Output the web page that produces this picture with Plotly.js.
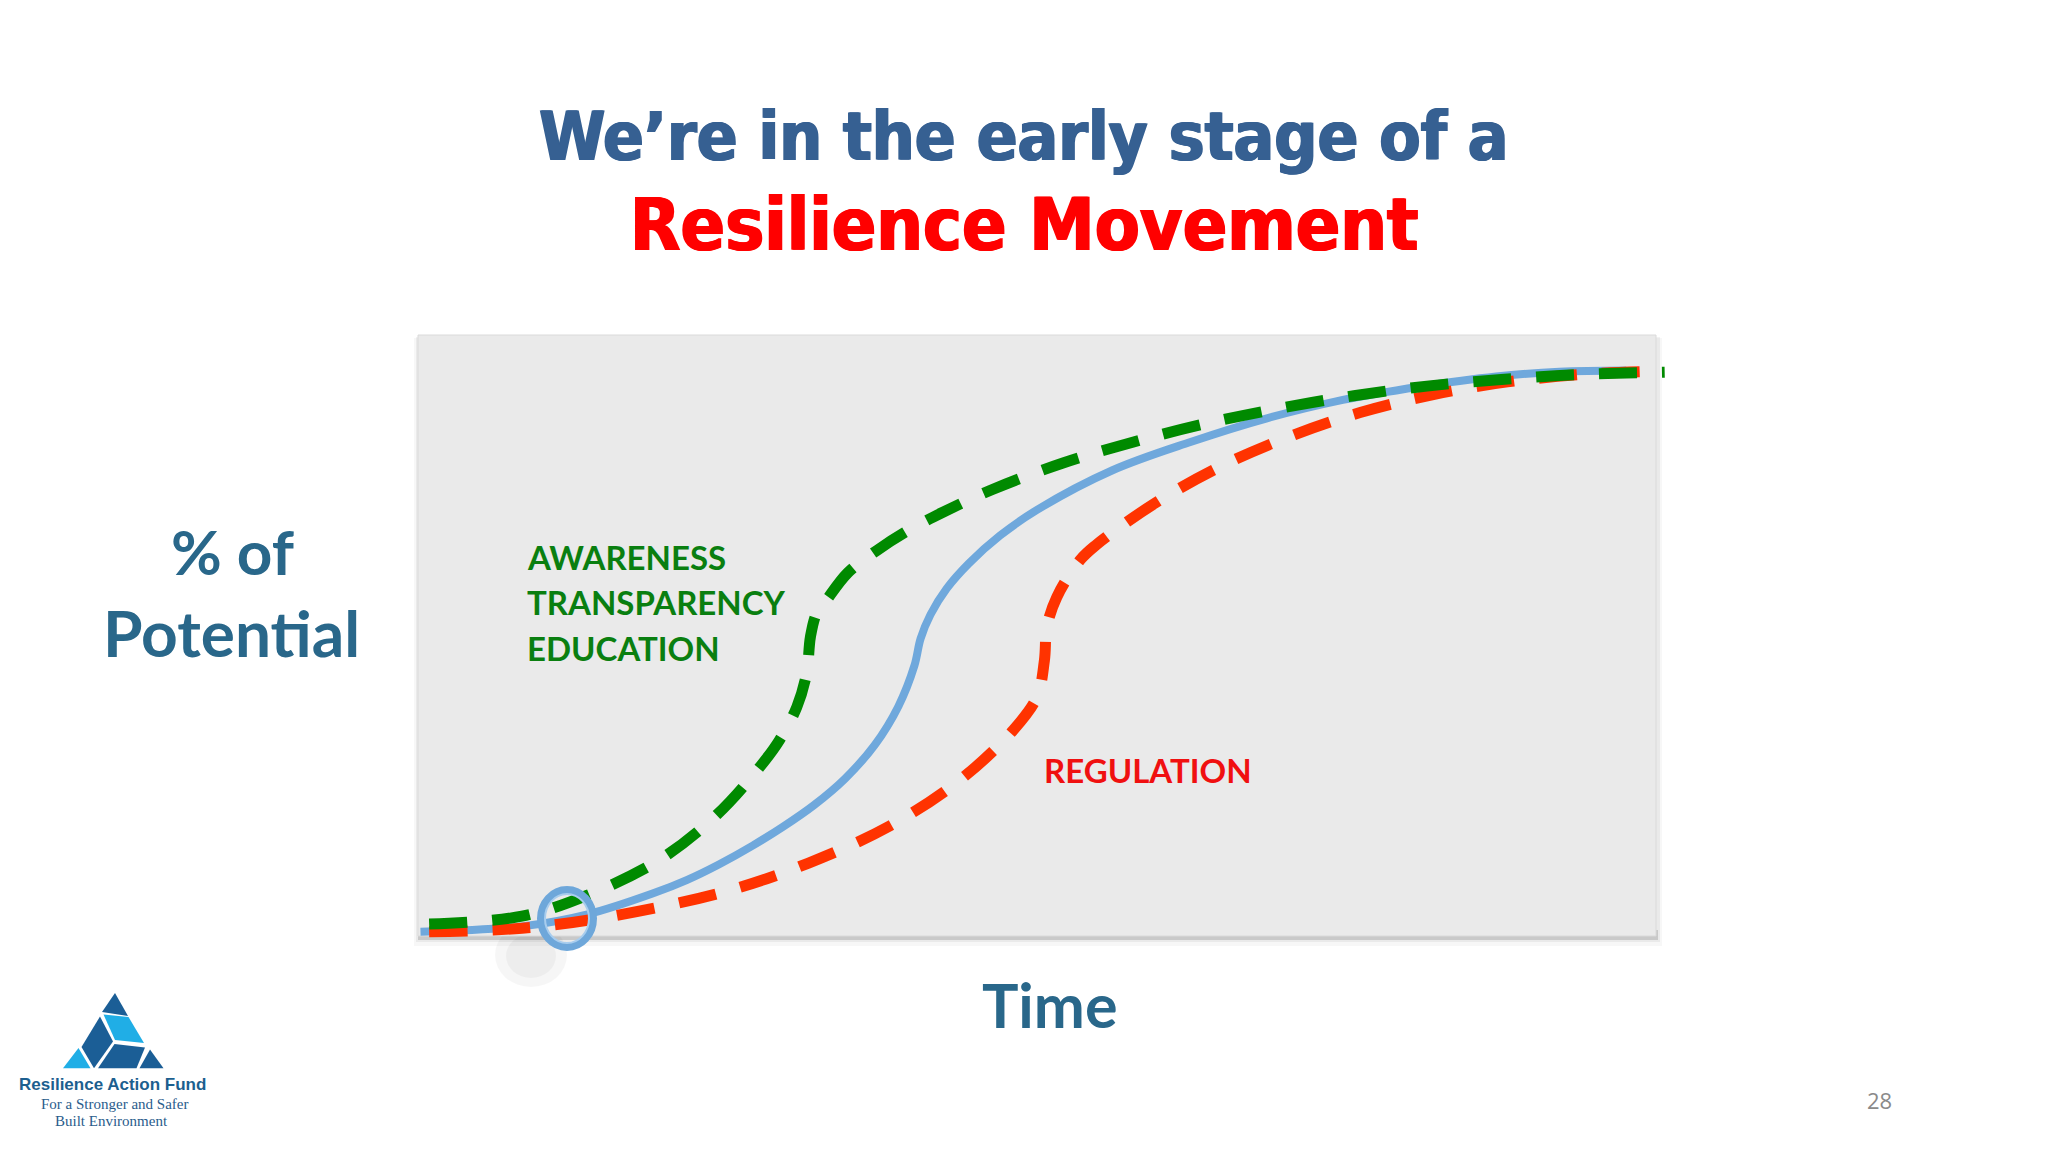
<!DOCTYPE html>
<html>
<head>
<meta charset="utf-8">
<script src="https://cdn.plot.ly/plotly-3.0.1.min.js"></script>
<style>
html,body{margin:0;padding:0;background:#ffffff;}
#chart{width:2048px;height:1152px;}
</style>
</head>
<body>
<div id="chart"></div>
<script>
// ---- Data (x: time, 0-100 across the box; y: % of potential) ----
const timeBlue = [0.2, 8.4, 13.7, 19.0, 21.7, 24.3, 27.0, 29.5, 32.0, 34.5, 36.9, 38.8, 40.1, 40.6, 41.4, 42.7, 44.5, 47.0, 50.0, 56.1, 62.4, 68.5, 74.7, 80.9, 87.1, 92.2, 97.6];
const potBlue  = [0.7, 1.6, 3.6, 7.1, 9.3, 11.9, 15.0, 18.2, 21.8, 26.2, 31.8, 38.2, 45.0, 49.5, 53.5, 57.8, 62.0, 66.6, 70.9, 77.5, 82.2, 86.1, 89.2, 91.4, 93.1, 93.9, 94.1];

const timeGreen = [0.9, 8.4, 13.7, 19.6, 24.2, 27.6, 29.2, 30.6, 31.4, 31.7, 32.2, 33.0, 34.7, 37.1, 39.7, 42.4, 46.4, 52.1, 57.8, 63.7, 69.6, 75.6, 81.5, 87.5, 93.5, 100.7];
const potGreen  = [2.0, 3.3, 6.8, 12.8, 20.3, 28.1, 32.6, 38.1, 43.8, 49.8, 53.7, 55.9, 60.4, 64.2, 67.6, 70.5, 74.3, 78.7, 82.2, 85.3, 87.8, 89.9, 91.5, 92.6, 93.4, 93.8];

const timeRed = [0.9, 8.4, 15.7, 25.0, 31.5, 38.1, 43.8, 48.1, 50.0, 50.6, 50.8, 51.6, 53.5, 54.8, 59.6, 64.9, 70.4, 76.1, 82.0, 88.0, 94.5, 100.7];
const potRed  = [0.7, 1.3, 3.3, 7.5, 12.1, 18.3, 26.0, 34.3, 39.8, 45.9, 51.4, 56.4, 62.6, 65.1, 72.1, 78.2, 83.1, 87.1, 90.1, 92.2, 93.5, 94.0];

const titleLine1 = "We’re in the early stage of a";
const titleLine2 = "Resilience Movement";
const yLabel = ["% of", "Potential"];
const xLabel = "Time";
const greenLabels = ["AWARENESS", "TRANSPARENCY", "EDUCATION"];
const redLabel = "REGULATION";
const pageNumber = "28";
const logoName = "Resilience Action Fund";
const logoTag = ["For a Stronger and Safer", "Built Environment"];

// ---- Layout geometry (pixels) ----
const W = 2048, H = 1152;
const PL = 400, PR = 1700, PT = 320, PB = 960;
const px = X => (X - PL) / (PR - PL);
const py = Y => (PB - Y) / (PB - PT);

const traces = [
  {x: timeBlue, y: potBlue, type: 'scatter', mode: 'lines', hoverinfo: 'skip',
   line: {color: '#6FA8DC', width: 8, shape: 'spline', smoothing: 1}},
  {x: timeRed, y: potRed, type: 'scatter', mode: 'lines', hoverinfo: 'skip',
   line: {color: '#FF3300', width: 11, shape: 'spline', smoothing: 1, dash: '38px,25px'}},
  {x: timeGreen, y: potGreen, type: 'scatter', mode: 'lines', hoverinfo: 'skip',
   line: {color: '#008A00', width: 11, shape: 'spline', smoothing: 1, dash: '38px,25px'}}
];

function poly(pts){
  return 'M ' + pts.map(p => px(p[0]) + ',' + py(p[1])).join(' L ') + ' Z';
}
function rectP(x0, y0, x1, y1, fill, layer){
  return {type:'rect', xref:'paper', yref:'paper', layer:layer || 'below',
    x0:px(x0), x1:px(x1), y0:py(y1), y1:py(y0), line:{width:0}, fillcolor:fill};
}

const shapes = [];
// box shadow
shapes.push(rectP(414, 338, 1662, 946, 'rgba(0,0,0,0.03)'));
shapes.push(rectP(416, 337, 1660, 942, 'rgba(0,0,0,0.05)'));
shapes.push(rectP(418, 930, 1658, 940, 'rgba(0,0,0,0.14)'));
// main box
shapes.push({type:'rect', xref:'x', yref:'y', layer:'below', x0:0, x1:100, y0:0, y1:100,
  line:{color:'#DADADA', width:1}, fillcolor:'#EAEAEA'});
// left / right bevel
shapes.push({type:'path', xref:'paper', yref:'paper', layer:'below',
  path: poly([[418,335],[445,362],[445,931],[418,934]]), line:{width:0}, fillcolor:'#E3E3E3'});
shapes.push(rectP(418, 340, 424, 934, '#D9D9D9'));
shapes.push({type:'path', xref:'paper', yref:'paper', layer:'below',
  path: poly([[1656,335],[1629,362],[1629,931],[1656,934]]), line:{width:0}, fillcolor:'#E8E8E8'});
shapes.push(rectP(1652, 340, 1656, 934, '#D6D6D6'));
// top bevel
shapes.push({type:'path', xref:'paper', yref:'paper', layer:'below',
  path: poly([[418,335],[1656,335],[1629,362],[445,362]]), line:{width:0}, fillcolor:'#F1F1F1'});
shapes.push({type:'path', xref:'paper', yref:'paper', layer:'below',
  path: poly([[418,335],[1656,335],[1638,353],[436,353]]), line:{width:0}, fillcolor:'#F8F8F8'});
shapes.push({type:'path', xref:'paper', yref:'paper', layer:'below',
  path: poly([[418,335],[1656,335],[1646,345],[428,345]]), line:{width:0}, fillcolor:'#FDFDFD'});
// bottom edge highlight
shapes.push(rectP(420, 930, 1654, 933, '#F6F6F6'));
// ring shadow
shapes.push({type:'circle', xref:'paper', yref:'paper', layer:'below',
  x0:px(495), x1:px(567), y0:py(987), y1:py(923), line:{width:0}, fillcolor:'rgba(0,0,0,0.035)'});
shapes.push({type:'circle', xref:'paper', yref:'paper', layer:'below',
  x0:px(506), x1:px(556), y0:py(978), y1:py(934), line:{width:0}, fillcolor:'rgba(0,0,0,0.035)'});
// ring
shapes.push({type:'circle', xref:'paper', yref:'paper', layer:'above',
  x0:px(541), x1:px(593), y0:py(947), y1:py(890), line:{color:'#6EA7DA', width:8}, fillcolor:'rgba(0,0,0,0)'});
shapes.push({type:'circle', xref:'paper', yref:'paper', layer:'above',
  x0:px(545), x1:px(589), y0:py(943), y1:py(894), line:{color:'#A8CDEE', width:2}, fillcolor:'rgba(0,0,0,0)'});

// logo
const dark = '#1B5E96', light = '#20AEE6';
const logoPieces = [
  [[[115,993],[102,1012],[128,1016]], dark],
  [[[103.5,1014.5],[128.5,1017],[144,1043],[115,1040]], light],
  [[[100,1016.5],[113,1041.5],[94,1068.3],[81.5,1047]], dark],
  [[[78.5,1048],[90.5,1068.3],[63,1068.3]], light],
  [[[114.5,1044],[145,1047.5],[136.5,1068.3],[98,1068.3]], dark],
  [[[150,1049.5],[163.5,1068.3],[139.5,1068.3]], dark]
];
logoPieces.forEach(p => shapes.push({type:'path', xref:'paper', yref:'paper', layer:'above',
  path: poly(p[0]), line:{width:0}, fillcolor:p[1]}));

const ann = (X, Y, text, font, extra) => Object.assign({
  xref:'paper', yref:'paper', x:px(X), y:py(Y), text:text, showarrow:false,
  xanchor:'center', yanchor:'middle', font:font}, extra || {});

const titleFont = 'DejaVu Sans Condensed, DejaVu Sans, sans-serif';
const annotations = [
  ann(1024, 137, titleLine1, {family:titleFont, size:67, weight:700, color:'#366092',
      shadow:'1px 0 0 #366092, -1px 0 0 #366092'}),
  ann(1024, 224, titleLine2, {family:titleFont, size:73, weight:700, color:'#FF0000',
      shadow:'1px 0 0 #FF0000, -1px 0 0 #FF0000'}),
  ann(232, 551, yLabel[0], {family:'Lato, sans-serif', size:62, weight:700, color:'#29678A'}),
  ann(231, 632, yLabel[1], {family:'Lato, sans-serif', size:64, weight:700, color:'#29678A'}),
  ann(1049, 1004, xLabel, {family:'Lato, sans-serif', size:61, weight:700, color:'#29678A'}),
  ann(525, 557, greenLabels[0], {family:'Lato, sans-serif', size:33, weight:700, color:'#0A7F10'}, {xanchor:'left'}),
  ann(525, 602, greenLabels[1], {family:'Lato, sans-serif', size:33, weight:700, color:'#0A7F10'}, {xanchor:'left'}),
  ann(525, 648, greenLabels[2], {family:'Lato, sans-serif', size:33, weight:700, color:'#0A7F10'}, {xanchor:'left'}),
  ann(1042, 770, redLabel, {family:'Lato, sans-serif', size:33, weight:700, color:'#F01010'}, {xanchor:'left'}),
  ann(1879, 1100, pageNumber, {family:'Open Sans, sans-serif', size:22, color:'#8A8A8A'}),
  ann(112, 1084, logoName, {family:'Liberation Sans, sans-serif', size:17, weight:700, color:'#1C5F8F'}),
  ann(114, 1104, logoTag[0], {family:'Liberation Serif, serif', size:15, color:'#2A5C8C'}),
  ann(111, 1121, logoTag[1], {family:'Liberation Serif, serif', size:15, color:'#2A5C8C'})
];

const layout = {
  width: W, height: H,
  paper_bgcolor:'#FFFFFF', plot_bgcolor:'rgba(0,0,0,0)',
  margin:{l:PL, r:W-PR, t:PT, b:H-PB, pad:0},
  showlegend:false,
  xaxis:{range:[(PL-418)/12.38, (PR-418)/12.38], visible:false, fixedrange:true},
  yaxis:{range:[-(PB-936)/6.01, (936-PT)/6.01], visible:false, fixedrange:true},
  shapes: shapes,
  annotations: annotations
};

Plotly.newPlot('chart', traces, layout, {staticPlot:true, displayModeBar:false});
</script>
</body>
</html>
